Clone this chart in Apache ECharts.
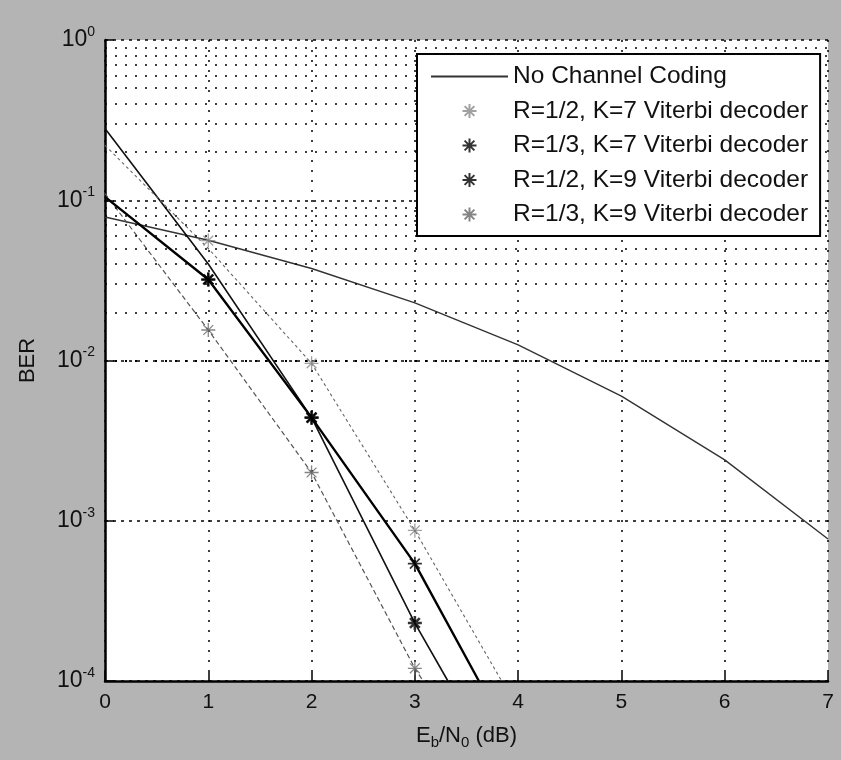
<!DOCTYPE html>
<html>
<head>
<meta charset="utf-8">
<title>BER vs Eb/N0</title>
<script src="https://cdn.jsdelivr.net/npm/echarts@6/dist/echarts.min.js"></script>
<style>
  html, body { margin: 0; padding: 0; background: #b4b4b4; }
  #chart { width: 841px; height: 760px; }
</style>
</head>
<body>
<div id="chart"></div>
<script>
// Eb/N0 (dB) and BER
const snrUncoded = [0, 1, 2, 3, 4, 5, 6, 7];
const berUncoded = [0.0786, 0.0563, 0.0375, 0.0229, 0.0125, 0.006, 0.0024, 0.00077];

// coded performance curves (drawn as lines, not in the legend)
const snrCurveA = [0, 1, 2, 3, 3.08];
const berCurveA = [0.11, 0.0155, 0.002, 0.00012, 0.0001];
const snrCurveB = [0, 1, 2, 3, 3.32];
const berCurveB = [0.28, 0.04, 0.0044, 0.00023, 0.0001];
const snrCurveC = [0, 1, 2, 3, 3.62];
const berCurveC = [0.105, 0.032, 0.0044, 0.00054, 0.0001];
const snrCurveD = [0, 1, 2, 3, 3.84];
const berCurveD = [0.22, 0.05, 0.0096, 0.00087, 0.0001];

// simulated points (markers)
const snrPoints = [1, 2, 3];
const berR12K7 = [0.056, 0.0096, 0.00087];
const berR13K7 = [0.032, 0.0044, 0.00054];
const berR12K9 = [0.032, 0.0044, 0.00023];
const berR13K9 = [0.0155, 0.002, 0.00012];

const seriesNames = [
  'No Channel Coding',
  'R=1/2, K=7 Viterbi decoder',
  'R=1/3, K=7 Viterbi decoder',
  'R=1/2, K=9 Viterbi decoder',
  'R=1/3, K=9 Viterbi decoder'
];

// minor grid lines 2..9 x 10^k
const minorGridY = [];
for (let k = -4; k < 0; k++) {
  for (let m = 2; m <= 9; m++) minorGridY.push(m * Math.pow(10, k));
}

const font = 'Liberation Sans, Arial, sans-serif';
const star = 'path://M10,0L10,20M0,10L20,10M3,3L17,17M3,17L17,3';

const zip = (xs, ys) => xs.map((x, i) => [x, ys[i]]);

function curve(name, xs, ys, style) {
  return {
    name: name,
    type: 'line',
    data: zip(xs, ys),
    showSymbol: false,
    symbol: 'none',
    lineStyle: style,
    z: 3
  };
}

function points(name, ys, color, width) {
  return {
    name: name,
    type: 'scatter',
    data: zip(snrPoints, ys),
    symbol: star,
    symbolSize: 14,
    itemStyle: { color: 'transparent', borderColor: color, borderWidth: width },
    z: 5
  };
}

const chart = echarts.init(document.getElementById('chart'));

chart.setOption({
  animation: false,
  backgroundColor: '#b4b4b4',
  textStyle: { fontFamily: font },
  grid: {
    left: 105, top: 40, right: 13, bottom: 79,
    show: true, backgroundColor: '#fff', borderWidth: 0
  },
  legend: {
    orient: 'vertical',
    left: 417, top: 54,
    z: 20,
    data: [
      { name: seriesNames[0], itemStyle: { opacity: 0 } },
      seriesNames[1], seriesNames[2], seriesNames[3], seriesNames[4]
    ],
    backgroundColor: '#fff',
    borderColor: '#000', borderWidth: 2,
    padding: [10, 12, 9, 13],
    itemWidth: 77, itemHeight: 14, itemGap: 9.5,
    textStyle: { fontSize: 24.5, color: '#111', fontFamily: font }
  },
  xAxis: {
    type: 'value', min: 0, max: 7, interval: 1,
    name: '{a|E}{s|b}{a|/N}{s|0}{a| (dB)}',
    nameLocation: 'middle', nameGap: 40,
    nameTextStyle: {
      rich: {
        a: { fontSize: 22, color: '#111', fontFamily: font },
        s: { fontSize: 15, color: '#111', fontFamily: font, padding: [14, 0, 0, 0] }
      }
    },
    axisLine: { lineStyle: { color: '#000', width: 2.5 } },
    axisTick: { inside: true, length: 9, lineStyle: { color: '#000', width: 1.5 } },
    axisLabel: { fontSize: 21, color: '#111', margin: 11 },
    splitLine: { show: true, lineStyle: { color: '#000', type: [2, 8], width: 1.5 } }
  },
  yAxis: {
    type: 'log', logBase: 10, min: 1e-4, max: 1,
    name: 'BER', nameLocation: 'middle', nameGap: 66,
    nameTextStyle: { fontSize: 22, color: '#111' },
    axisLine: { lineStyle: { color: '#000', width: 2.5 } },
    axisTick: { inside: true, length: 9, lineStyle: { color: '#000', width: 1.5 } },
    axisLabel: {
      margin: 10,
      formatter: v => '{b|10}{e|' + Math.round(Math.log10(v)) + '}',
      rich: {
        b: { fontSize: 23, color: '#111', fontFamily: font },
        e: { fontSize: 14, color: '#111', fontFamily: font, padding: [0, 0, 16, 0] }
      }
    },
    splitLine: { show: true, lineStyle: { color: '#000', type: [3, 5], width: 1.5 } }
  },
  series: [
    Object.assign(curve(seriesNames[0], snrUncoded, berUncoded,
      { color: '#333', width: 1.4 }), {
      itemStyle: { color: '#333' },
      markLine: {
        silent: true,
        symbol: ['none', 'none'],
        label: { show: false },
        lineStyle: { color: '#000', type: [2, 8], width: 1.5 },
        emphasis: { disabled: true },
        data: minorGridY.map(v => ({ yAxis: v }))
      }
    }),
    curve('curveA', snrCurveA, berCurveA, { color: '#555', width: 1.2, type: [5, 3] }),
    curve('curveB', snrCurveB, berCurveB, { color: '#111', width: 1.6 }),
    curve('curveC', snrCurveC, berCurveC, { color: '#000', width: 2.4 }),
    curve('curveD', snrCurveD, berCurveD, { color: '#666', width: 1.1, type: [3, 3] }),
    points(seriesNames[1], berR12K7, '#8a8a8a', 1.3),
    points(seriesNames[2], berR13K7, '#000', 1.8),
    points(seriesNames[3], berR12K9, '#000', 2.6),
    points(seriesNames[4], berR13K9, '#666', 1.3)
  ]
});

window.addEventListener('resize', () => chart.resize());
</script>
</body>
</html>
